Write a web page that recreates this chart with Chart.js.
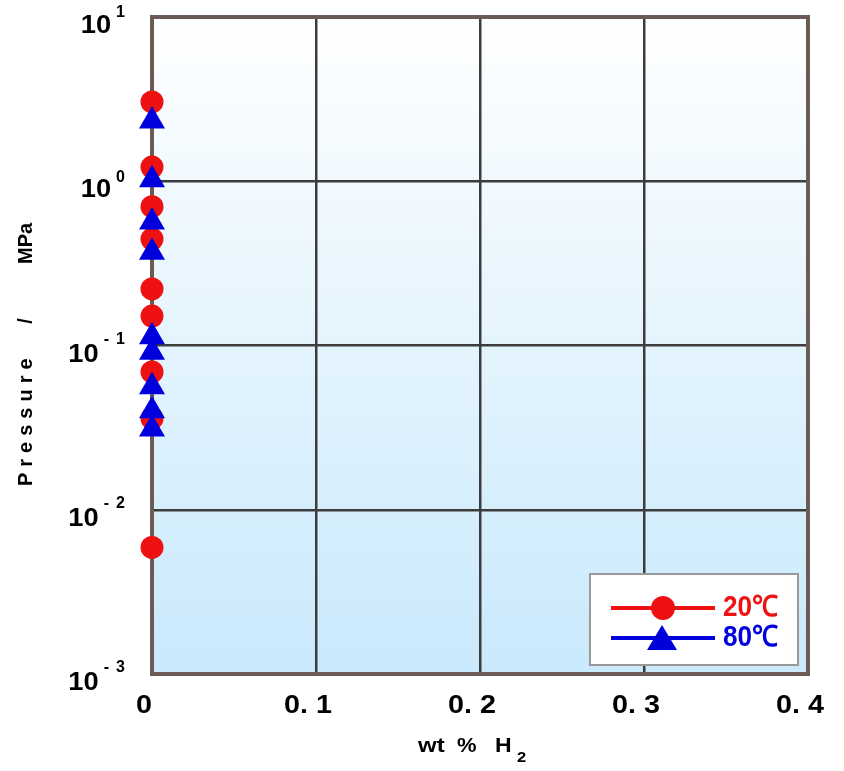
<!DOCTYPE html>
<html><head><meta charset="utf-8">
<script src="https://cdn.jsdelivr.net/npm/chart.js@4/dist/chart.umd.min.js"></script>
<style>html,body{margin:0;padding:0;background:#fff}#wrap{width:844px;height:771px}</style>
</head><body><div id="wrap"><canvas id="c" width="844" height="771"></canvas></div>
<script>
// ---- data ----
const xTicks = [0, 0.1, 0.2, 0.3, 0.4];
const xTickLabels = ['0', '0. 1', '0. 2', '0. 3', '0. 4'];
const yTicks = [0.001, 0.01, 0.1, 1, 10];
const yTickExp = ['-3', '-2', '-1', '0', '1'];
const label20 = '20℃';
const label80 = '80℃';
const wt20 = [0, 0, 0, 0, 0, 0, 0, 0, 0];
const p20 = [3.04, 1.22, 0.70, 0.445, 0.221, 0.151, 0.069, 0.036, 0.0059];
const wt80 = [0, 0, 0, 0, 0, 0, 0, 0, 0];
const p80 = [2.33, 1.02, 0.565, 0.37, 0.113, 0.091, 0.056, 0.040, 0.031];
const xTitle = 'wt % H';
const xTitleSub = '2';
const yTitleParts = ['Pressure', '/', 'MPa'];

const RED = '#ee1111';
const BLUE = '#0000dd';
const FONT = '"Liberation Sans", Arial, sans-serif';

function txt(ctx, s, x, y, font, color, align, sx) {
  ctx.save();
  ctx.font = font;
  ctx.fillStyle = color;
  ctx.textBaseline = 'middle';
  const w = ctx.measureText(s).width * (sx || 1);
  let left = x;
  if (align === 'center') left = x - w / 2;
  else if (align === 'right') left = x - w;
  ctx.translate(left, y);
  ctx.scale(sx || 1, 1);
  ctx.textAlign = 'left';
  ctx.fillText(s, 0, 0);
  ctx.restore();
  return w;
}

const deco = {
  id: 'deco',
  beforeDraw(chart) {
    const {ctx, chartArea: a} = chart;
    ctx.save();
    const g = ctx.createLinearGradient(0, a.top, 0, a.bottom);
    g.addColorStop(0, '#ffffff');
    g.addColorStop(1, '#c9e9fc');
    ctx.fillStyle = g;
    ctx.fillRect(a.left, a.top, a.right - a.left, a.bottom - a.top);
    ctx.restore();
  },
  beforeDatasetsDraw(chart) {
    const {ctx, chartArea: a} = chart;
    ctx.save();
    ctx.strokeStyle = '#6a5b55';
    ctx.lineWidth = 4;
    ctx.strokeRect(a.left, a.top, a.right - a.left, a.bottom - a.top);
    ctx.restore();
  },
  afterDraw(chart) {
    const {ctx} = chart;
    const xs = chart.scales.x, ys = chart.scales.y;
    // y tick labels
    yTicks.forEach((v, i) => {
      const py = ys.getPixelForValue(v);
      const e = yTickExp[i];
      let left;
      if (e[0] === '-') {
        txt(ctx, e.slice(1), 125, py - 6, 'bold 16px ' + FONT, '#000', 'right');
        const mw = txt(ctx, '-', 109, py - 6, 'bold 16px ' + FONT, '#000', 'right');
        left = 109 - mw;
      } else {
        const w = txt(ctx, e, 125, py - 4, 'bold 16px ' + FONT, '#000', 'right');
        left = 125 - w;
      }
      txt(ctx, '10', left - 5, py + 9, 'bold 26px ' + FONT, '#000', 'right', 1.05);
    });
    // x tick labels
    xTicks.forEach((v, i) => {
      const px = xs.getPixelForValue(v);
      txt(ctx, xTickLabels[i], px - 8, 706, 'bold 25px ' + FONT, '#000', 'center', 1.15);
    });
    // x title
    const tf = 'bold 20px ' + FONT;
    txt(ctx, 'wt', 418, 746, tf, '#000', 'left', 1.2);
    txt(ctx, '%', 457, 746, tf, '#000', 'left', 1.1);
    txt(ctx, 'H', 495, 746, tf, '#000', 'left', 1.15);
    txt(ctx, xTitleSub, 517, 758, 'bold 15px ' + FONT, '#000', 'left', 1.1);
    // y title
    ctx.save();
    ctx.translate(26, 0);
    ctx.rotate(-Math.PI / 2);
    ctx.font = 'bold 20px ' + FONT;
    ctx.fillStyle = '#000';
    ctx.textBaseline = 'middle';
    ctx.textAlign = 'left';
    ctx.letterSpacing = '6px';
    ctx.fillText(yTitleParts[0], -486, 0);
    ctx.letterSpacing = '0px';
    ctx.textAlign = 'center';
    ctx.fillText(yTitleParts[1], -321, 0);
    ctx.textAlign = 'left';
    ctx.fillText(yTitleParts[2], -264, 0);
    ctx.restore();
    // legend
    ctx.save();
    ctx.fillStyle = '#ffffff';
    ctx.fillRect(590, 574, 208, 91);
    ctx.strokeStyle = '#999999';
    ctx.lineWidth = 2;
    ctx.strokeRect(590, 574, 208, 91);
    ctx.lineWidth = 4;
    ctx.strokeStyle = RED;
    ctx.beginPath(); ctx.moveTo(611, 608); ctx.lineTo(715, 608); ctx.stroke();
    ctx.strokeStyle = BLUE;
    ctx.beginPath(); ctx.moveTo(611, 638); ctx.lineTo(715, 638); ctx.stroke();
    ctx.fillStyle = RED;
    ctx.beginPath(); ctx.arc(663, 608, 12, 0, Math.PI * 2); ctx.fill();
    ctx.fillStyle = BLUE;
    ctx.beginPath(); ctx.moveTo(662, 625); ctx.lineTo(677, 650); ctx.lineTo(647, 650); ctx.closePath(); ctx.fill();
    ctx.restore();
    txt(ctx, label20, 723, 608, 'bold 29px ' + FONT, RED, 'left', 0.9);
    txt(ctx, label80, 723, 638, 'bold 29px ' + FONT, BLUE, 'left', 0.9);
  }
};

const gridOpts = {color: '#3c3c3c', lineWidth: 2.5, drawTicks: false};

new Chart(document.getElementById('c'), {
  type: 'scatter',
  data: {
    datasets: [
      {label: label80, data: wt80.map((x, i) => ({x, y: p80[i]})), pointStyle: 'triangle', pointRadius: 15,
       backgroundColor: BLUE, borderColor: BLUE, borderWidth: 0, showLine: false, order: 0, clip: false},
      {label: label20, data: wt20.map((x, i) => ({x, y: p20[i]})), pointStyle: 'circle', pointRadius: 11.5,
       backgroundColor: RED, borderColor: RED, borderWidth: 0, showLine: false, order: 1, clip: false}
    ]
  },
  options: {
    responsive: false, animation: false, devicePixelRatio: 1,
    layout: {padding: {left: 152, right: 36, top: 17, bottom: 97}},
    plugins: {legend: {display: false}, tooltip: {enabled: false}},
    scales: {
      x: {type: 'linear', min: 0, max: 0.4, ticks: {display: false}, grid: gridOpts, border: {display: false},
          afterBuildTicks: s => { s.ticks = xTicks.map(v => ({value: v})); }},
      y: {type: 'logarithmic', min: 0.001, max: 10, ticks: {display: false}, grid: gridOpts, border: {display: false},
          afterBuildTicks: s => { s.ticks = yTicks.map(v => ({value: v})); }}
    }
  },
  plugins: [deco]
});
</script></body></html>
